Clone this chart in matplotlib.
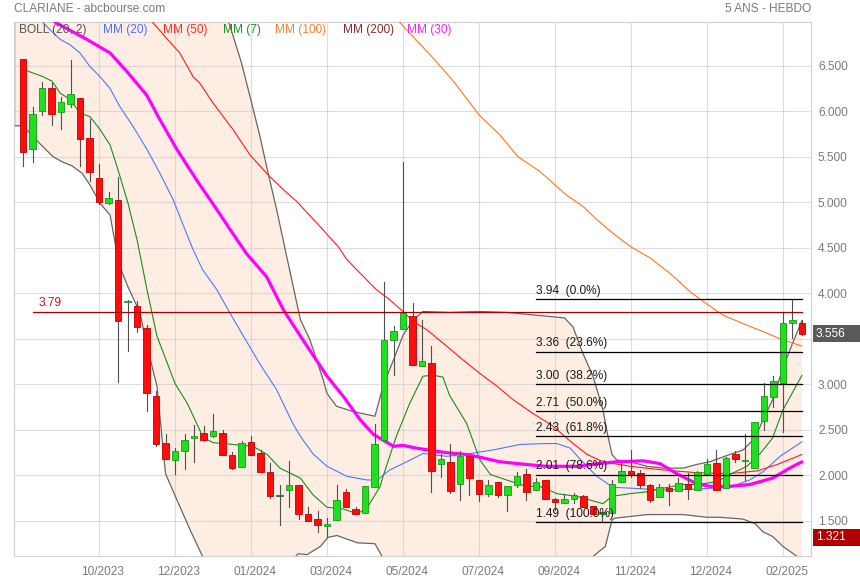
import numpy as np
import matplotlib
matplotlib.use('Agg')
import matplotlib.pyplot as plt
from matplotlib.patches import Rectangle, Polygon
from matplotlib import transforms

plt.rcParams['font.family'] = ['Liberation Sans', 'DejaVu Sans']

# ---------------- data ----------------
opens = [6.57, 5.59, 6.00, 6.25, 5.99, 6.08, 6.14, 5.71, 5.27, 4.99,
         5.03, 3.90, 3.86, 3.62, 2.87, 2.36, 2.17, 2.27, 2.41, 2.47,
         2.43, 2.47, 2.22, 2.09, 2.37, 2.25, 2.04, 1.77, 1.84, 1.90,
         1.58, 1.52, 1.44, 1.51, 1.82, 1.63, 1.59, 1.87, 2.39, 3.49,
         3.61, 3.75, 3.20, 3.24, 2.13, 2.15, 1.91, 2.21, 1.95, 1.80,
         1.93, 1.78, 1.89, 2.02, 1.84, 1.95, 1.74, 1.70, 1.74, 1.77,
         1.66, 1.58, 1.59, 1.93, 2.05, 2.03, 1.90, 1.76, 1.86, 1.83,
         1.91, 1.84, 2.02, 2.14, 1.86, 2.24, 2.16, 2.08, 2.60, 2.86,
         3.01, 3.67, 3.67]
highs = [6.57, 6.05, 6.32, 6.31, 6.16, 6.56, 6.14, 5.92, 5.42, 5.11,
         5.28, 3.93, 3.92, 3.65, 2.93, 2.46, 2.30, 2.46, 2.55, 2.54,
         2.68, 2.50, 2.26, 2.38, 2.43, 2.28, 2.14, 1.89, 2.16, 1.90,
         1.65, 1.61, 1.53, 1.89, 1.85, 1.65, 1.88, 2.56, 4.12, 3.64,
         5.44, 3.89, 3.71, 3.42, 2.24, 2.35, 2.27, 2.21, 1.95, 1.95,
         1.93, 1.88, 2.04, 2.07, 1.97, 1.95, 1.75, 1.80, 1.81, 1.79,
         1.66, 1.60, 1.95, 2.14, 2.28, 2.06, 1.91, 1.91, 1.91, 1.97,
         2.03, 2.05, 2.18, 2.28, 2.20, 2.27, 2.46, 2.59, 3.01, 3.09,
         3.78, 3.94, 3.71]
lows = [5.40, 5.44, 5.96, 5.85, 5.81, 6.05, 5.40, 5.23, 4.98, 4.98,
        3.03, 3.37, 3.57, 2.71, 2.32, 2.18, 2.02, 2.07, 2.15, 2.38,
        2.42, 2.22, 2.07, 2.09, 2.22, 2.04, 1.75, 1.45, 1.65, 1.52,
        1.50, 1.38, 1.32, 1.51, 1.65, 1.58, 1.59, 1.87, 2.39, 3.10,
        3.61, 3.21, 3.20, 1.82, 1.98, 1.81, 1.73, 1.78, 1.72, 1.77,
        1.76, 1.61, 1.87, 1.73, 1.84, 1.74, 1.62, 1.70, 1.70, 1.65,
        1.58, 1.49, 1.59, 1.93, 1.98, 1.86, 1.71, 1.76, 1.68, 1.83,
        1.74, 1.84, 2.02, 1.84, 1.86, 2.15, 1.95, 2.08, 2.50, 2.75,
        2.48, 3.51, 3.54]
closes = [5.55, 5.97, 6.26, 5.97, 6.10, 6.19, 5.69, 5.33, 5.00, 5.05,
          3.70, 3.92, 3.63, 2.90, 2.35, 2.18, 2.27, 2.39, 2.43, 2.39,
          2.49, 2.22, 2.08, 2.36, 2.22, 2.04, 1.77, 1.77, 1.90, 1.58,
          1.50, 1.45, 1.47, 1.73, 1.65, 1.58, 1.88, 2.35, 3.49, 3.59,
          3.78, 3.21, 3.26, 2.05, 2.18, 1.83, 2.21, 1.97, 1.80, 1.90,
          1.79, 1.88, 1.99, 1.82, 1.93, 1.74, 1.71, 1.74, 1.78, 1.65,
          1.58, 1.60, 1.91, 2.05, 2.00, 1.89, 1.73, 1.87, 1.83, 1.92,
          1.85, 2.04, 2.13, 1.84, 2.19, 2.18, 2.17, 2.59, 2.87, 3.04,
          3.67, 3.71, 3.556]

xtick_idx = [8, 16, 24, 32, 40, 48, 56, 64, 72, 80]
xtick_labels = ['10/2023', '12/2023', '01/2024', '03/2024', '05/2024',
                '07/2024', '09/2024', '11/2024', '12/2024', '02/2025']
ytick_vals = [1.5, 2.0, 2.5, 3.0, 3.5, 4.0, 4.5, 5.0, 5.5, 6.0, 6.5]

# Bollinger (20, 2) bands: (week index, value)
boll_upper = [(-0.93, 9.0), (12, 8.6), (19, 7.6), (21.6, 7.00), (23.0, 6.53), (23.9, 6.16),
              (24.95, 5.72), (25.8, 5.32), (26.7, 4.92), (27.6, 4.48), (28.45, 4.07),
              (29.2, 3.71), (30.2, 3.49), (31.6, 3.05), (32.0, 2.90), (33.0, 2.76),
              (34.8, 2.70), (37.05, 2.65), (37.9, 2.98), (39.0, 3.27), (40.0, 3.54),
              (41.1, 3.71), (42.1, 3.80), (44.9, 3.79), (48, 3.80), (51, 3.79), (54, 3.76),
              (57, 3.73), (57.9, 3.63), (58.9, 3.35), (60.0, 3.09), (61.05, 2.72),
              (61.5, 2.47), (62.0, 2.23), (62.5, 2.17), (63.9, 2.15), (65.7, 2.10),
              (67.4, 2.08), (69.5, 2.08), (70.9, 2.12), (72.3, 2.15), (74.4, 2.23),
              (75.8, 2.28), (77.05, 2.41), (77.9, 2.61), (78.9, 2.83), (80, 3.18),
              (81, 3.45), (82, 3.70)]
boll_lower = [(-0.93, 5.84), (0, 5.84), (1.05, 5.72), (2.1, 5.61), (3.16, 5.50), (4.2, 5.44),
              (5.16, 5.40), (6.2, 5.32), (7.05, 5.19), (8.1, 4.99), (9.16, 4.86), (9.7, 4.55),
              (10.2, 4.29), (11.05, 4.07), (12.3, 3.79), (13.05, 3.42), (14.1, 2.98),
              (15.0, 2.02), (16.2, 1.73), (17.6, 1.40), (18.9, 1.11), (20, 0.95), (24, 0.85),
              (28.2, 1.05), (28.95, 1.14), (29.9, 1.13), (31.3, 1.22), (32.1, 1.32),
              (33.05, 1.34), (35.2, 1.26), (37.05, 1.25), (37.8, 1.11), (39, 0.85),
              (44, 0.55), (52, 0.55), (58, 0.85), (60, 1.11), (61.3, 1.22), (62, 1.51),
              (62.3, 1.53), (65.7, 1.57), (69.5, 1.57), (72, 1.54), (73.4, 1.54),
              (75.8, 1.52), (77.05, 1.47), (77.9, 1.38), (78.9, 1.33), (80, 1.22),
              (81.5, 1.11), (82, 1.05)]

mm20 = [(1.5, 7.05), (2.5, 6.93), (3.9, 6.79), (4.95, 6.73), (6.0, 6.64), (7.05, 6.49),
        (8.1, 6.38), (9.16, 6.25), (10.2, 6.05), (11.6, 5.83), (13.05, 5.58), (14.4, 5.32),
        (15.8, 5.03), (17.05, 4.70), (17.9, 4.48), (18.9, 4.26), (20.4, 4.04), (21.8, 3.78),
        (23.2, 3.53), (24.9, 3.23), (26.7, 2.94), (28.4, 2.57), (29.2, 2.43), (30.5, 2.24),
        (32.0, 2.10), (34.1, 1.99), (36.2, 1.95), (37.3, 1.95), (38.6, 2.06), (40, 2.13),
        (42.1, 2.24), (44.6, 2.21), (47.05, 2.24), (49.5, 2.28), (52.3, 2.34), (55.1, 2.35),
        (56.2, 2.35), (57.6, 2.30), (58.9, 2.15), (60.4, 1.99), (62.1, 1.87), (63.9, 1.86),
        (67.4, 1.84), (70.9, 1.85), (74.4, 1.87), (76.5, 1.95), (77.9, 2.04), (79.7, 2.21),
        (82, 2.37)]
mm50 = [(13, 7.05), (13.7, 6.97), (15.2, 6.79), (16.5, 6.64), (17.9, 6.38), (18.6, 6.31),
        (20.0, 6.09), (22.1, 5.80), (23.9, 5.52), (25.8, 5.30), (27.4, 5.14), (28.8, 5.01),
        (31.3, 4.73), (33.2, 4.51), (34.1, 4.37), (35.5, 4.22), (37.2, 4.04), (38.6, 3.93),
        (40.0, 3.80), (41.1, 3.69), (42.5, 3.60), (44.6, 3.42), (46.3, 3.27), (48.1, 3.12),
        (49.9, 2.98), (51.6, 2.83), (53.7, 2.68), (55.8, 2.54), (57.9, 2.35), (59.4, 2.23),
        (61.05, 2.15), (63.9, 2.10), (67.4, 2.06), (70.9, 2.03), (74.4, 2.02), (77.3, 2.05),
        (79.4, 2.12), (82, 2.23)]
mm7 = [(0, 6.46), (1.05, 6.42), (2.1, 6.38), (3.05, 6.33), (3.9, 6.20), (4.95, 6.13),
       (6.0, 5.98), (7.05, 5.94), (8.1, 5.80), (9.16, 5.63), (9.9, 5.39), (11.05, 4.99),
       (12.0, 4.59), (13.05, 4.04), (14.1, 3.53), (15.2, 3.23), (16.0, 3.01), (17.3, 2.79),
       (18.6, 2.50), (18.9, 2.42), (20.0, 2.36), (22.1, 2.34), (24.2, 2.32), (25.7, 2.23),
       (27.05, 2.08), (29.2, 1.97), (30.5, 1.79), (32.0, 1.65), (33.7, 1.63), (35.2, 1.58),
       (36.2, 1.64), (37.6, 1.88), (37.9, 1.99), (39.3, 2.43), (40.7, 2.79), (42.1, 3.09),
       (43.2, 3.10), (44.2, 3.08), (44.9, 2.88), (46.7, 2.57), (48.1, 2.17), (49.2, 2.01),
       (50.9, 1.95), (53.0, 1.88), (54.4, 1.88), (56.2, 1.80), (58.3, 1.77), (61.05, 1.69),
       (62.0, 1.77), (63.9, 1.80), (65.7, 1.82), (67.4, 1.86), (69.5, 1.90), (70.9, 1.90),
       (73.05, 1.93), (74.4, 2.01), (76.2, 2.10), (77.6, 2.24), (78.9, 2.41), (80, 2.72),
       (82, 3.10)]
mm100 = [(39, 7.05), (39.7, 6.97), (43.2, 6.58), (45.3, 6.33), (48.0, 5.96), (50.2, 5.74),
         (52.1, 5.50), (54.4, 5.34), (56.0, 5.19), (57.2, 5.08), (59.0, 4.95), (60.4, 4.81),
         (62.1, 4.66), (64.0, 4.51), (66.0, 4.39), (68.1, 4.22), (70.2, 4.02), (71.6, 3.91),
         (73.7, 3.76), (76.2, 3.65), (77.9, 3.58), (79.7, 3.50), (82, 3.42)]
mm30 = [(2.5, 7.05), (3.5, 6.97), (6.7, 6.79), (9.16, 6.64), (10.9, 6.44), (13.0, 6.18),
        (14.4, 5.91), (16.2, 5.58), (18.3, 5.24), (20.4, 4.92), (21.8, 4.70), (23.5, 4.44),
        (25.65, 4.18), (27.4, 3.82), (29.2, 3.53), (30.6, 3.31), (32.0, 3.09), (33.7, 2.87),
        (35.5, 2.61), (36.9, 2.45), (39.0, 2.32), (40.0, 2.33), (41.4, 2.30), (43.2, 2.27),
        (44.6, 2.25), (46.7, 2.23), (48.1, 2.20), (50.2, 2.15), (53.0, 2.12), (55.1, 2.10),
        (58.6, 2.10), (59.7, 2.12), (62.5, 2.15), (65.3, 2.16), (67.05, 2.13), (68.8, 2.02),
        (70.9, 1.91), (72.3, 1.88), (74.4, 1.88), (76.5, 1.90), (78.9, 1.97), (80.7, 2.08),
        (82, 2.15)]

fib_levels = [3.94, 3.36, 3.00, 2.71, 2.43, 2.01, 1.49]
fib_pcts = ['0.0%', '23.6%', '38.2%', '50.0%', '61.8%', '78.6%', '100.0%']
fib_start, fib_end = 54, 82

hline_val = 3.79
last_price = 3.556
low_label = 1.321

legend_items = [('BOLL (20, 2)', '#555555'), ('MM (20)', '#4f6fff'), ('MM (50)', '#ff2a2a'),
                ('MM (7)', '#1f8f1f'), ('MM (100)', '#ff7f2a'), ('MM (200)', '#8b2a2a'),
                ('MM (30)', '#ff22ff')]
legend_x = [19, 103, 163, 223, 275, 343, 407]  # pixel x of legend texts

# ---------------- figure ----------------
W, H = 860, 580
fig = plt.figure(figsize=(W / 100, H / 100), dpi=100)
L, R, T, B = 14, 811, 22, 556
ax = fig.add_axes([L / W, 1 - B / H, (R - L) / W, (B - T) / H])
ax.set_xlim(-0.95, 82.95)
ax.set_ylim(1.115, 6.98)

FS = 8.6
GRAY = '#7a7a7a'

def unzip(pairs):
    return [p[0] for p in pairs], [p[1] for p in pairs]

# band fill
ux, uy = unzip(boll_upper)
lx, ly = unzip(boll_lower)
poly = Polygon(list(zip(ux, uy)) + list(zip(lx, ly))[::-1], closed=True,
               facecolor='#fdede3', edgecolor='none', zorder=0.2)
ax.add_patch(poly)

# grid
ax.set_axisbelow(True)
ax.set_yticks(ytick_vals)
ax.set_xticks(xtick_idx)
ax.grid(True, color='#c4c4c4', alpha=0.55, linewidth=0.8)
for s in ax.spines.values():
    s.set_color('#d0d0d0')
    s.set_linewidth(0.8)

# band lines
ax.plot(ux, uy, color='#666666', lw=0.9, zorder=2)
ax.plot(lx, ly, color='#666666', lw=0.9, zorder=2)
ax.plot([lx[0], lx[0]], [ly[0], 7.2], color='#666666', lw=1.0, zorder=2)

# moving averages
for pairs, col, lw in [(mm20, '#4d79ff', 0.8), (mm50, '#ff1a1a', 0.8),
                       (mm100, '#ff7518', 0.8), (mm7, '#1a8c1a', 0.8),
                       (mm30, '#ff00ff', 2.3)]:
    xs, ys = unzip(pairs)
    ax.plot(xs, ys, color=col, lw=lw, zorder=3, solid_capstyle='round')

# candles
w = 0.68
for i, (o, h, l, c) in enumerate(zip(opens, highs, lows, closes)):
    ax.plot([i, i], [l, h], color='#505050', lw=0.8, zorder=4)
    bot = min(o, c)
    hgt = max(abs(c - o), 0.012)
    if abs(c - o) < 0.005:
        fc, ec = '#555555', '#555555'
    elif c >= o:
        fc, ec = '#1fe01f', '#169a16'
    else:
        fc, ec = '#ff0d0d', '#c00000'
    ax.add_patch(Rectangle((i - w / 2, bot), w, hgt, facecolor=fc, edgecolor=ec,
                           lw=0.6, zorder=5))

# 3.79 line
ax.plot([1.05, 82], [hline_val, hline_val], color='#a80000', lw=0.9, zorder=6)
ax.text(1.6, hline_val + 0.04, f'{hline_val:.2f}', color='#cc1111', fontsize=FS,
        va='bottom', ha='left', zorder=6)

# fibonacci
for lv, pc in zip(fib_levels, fib_pcts):
    ax.plot([fib_start, fib_end], [lv, lv], color='#000000', lw=0.9, zorder=6)
    ax.text(fib_start, lv + 0.025, f'{lv:.2f}  ({pc})', color='#1a1a1a', fontsize=FS,
            va='bottom', ha='left', zorder=6)

# ticks (the 3.500 label is hidden behind the last-price box in the reference)
ax.tick_params(axis='both', length=0, labelsize=FS, labelcolor=GRAY)
ax.yaxis.tick_right()
ax.set_yticklabels(['' if abs(v - 3.5) < 1e-9 else f'{v:.3f}' for v in ytick_vals])
ax.tick_params(axis='y', pad=5)
ax.set_xticklabels(xtick_labels)
ax.tick_params(axis='x', pad=7)
off = transforms.ScaledTranslation(4 / 100, 0, fig.dpi_scale_trans)
for lab in ax.get_xticklabels():
    lab.set_transform(lab.get_transform() + off)

# legend texts
for (txt, col), px in zip(legend_items, legend_x):
    fig.text(px / W, 1 - 30 / H, txt, color=col, fontsize=FS, va='center', ha='left')

# title texts
fig.text(14 / W, 1 - 9 / H, 'CLARIANE - abcbourse.com', color=GRAY, fontsize=FS,
         va='center', ha='left')
fig.text(811 / W, 1 - 9 / H, '5 ANS - HEBDO', color=GRAY, fontsize=FS,
         va='center', ha='right')

# value boxes at right
bt = transforms.blended_transform_factory(fig.transFigure, ax.transData)
for val, col in [(last_price, '#5a5a5a'), (low_label, '#b00000')]:
    r = Rectangle((812.5 / W, val - 0.095), 47.5 / W, 0.19, transform=bt,
                  facecolor=col, edgecolor='none', zorder=10)
    fig.patches.append(r)
    r.set_figure(fig)
    fig.text(816 / W, val, f'{val:.3f}', transform=bt, color='white', fontsize=FS,
             va='center', ha='left', zorder=11)

fig.savefig('out.png', dpi=100)
